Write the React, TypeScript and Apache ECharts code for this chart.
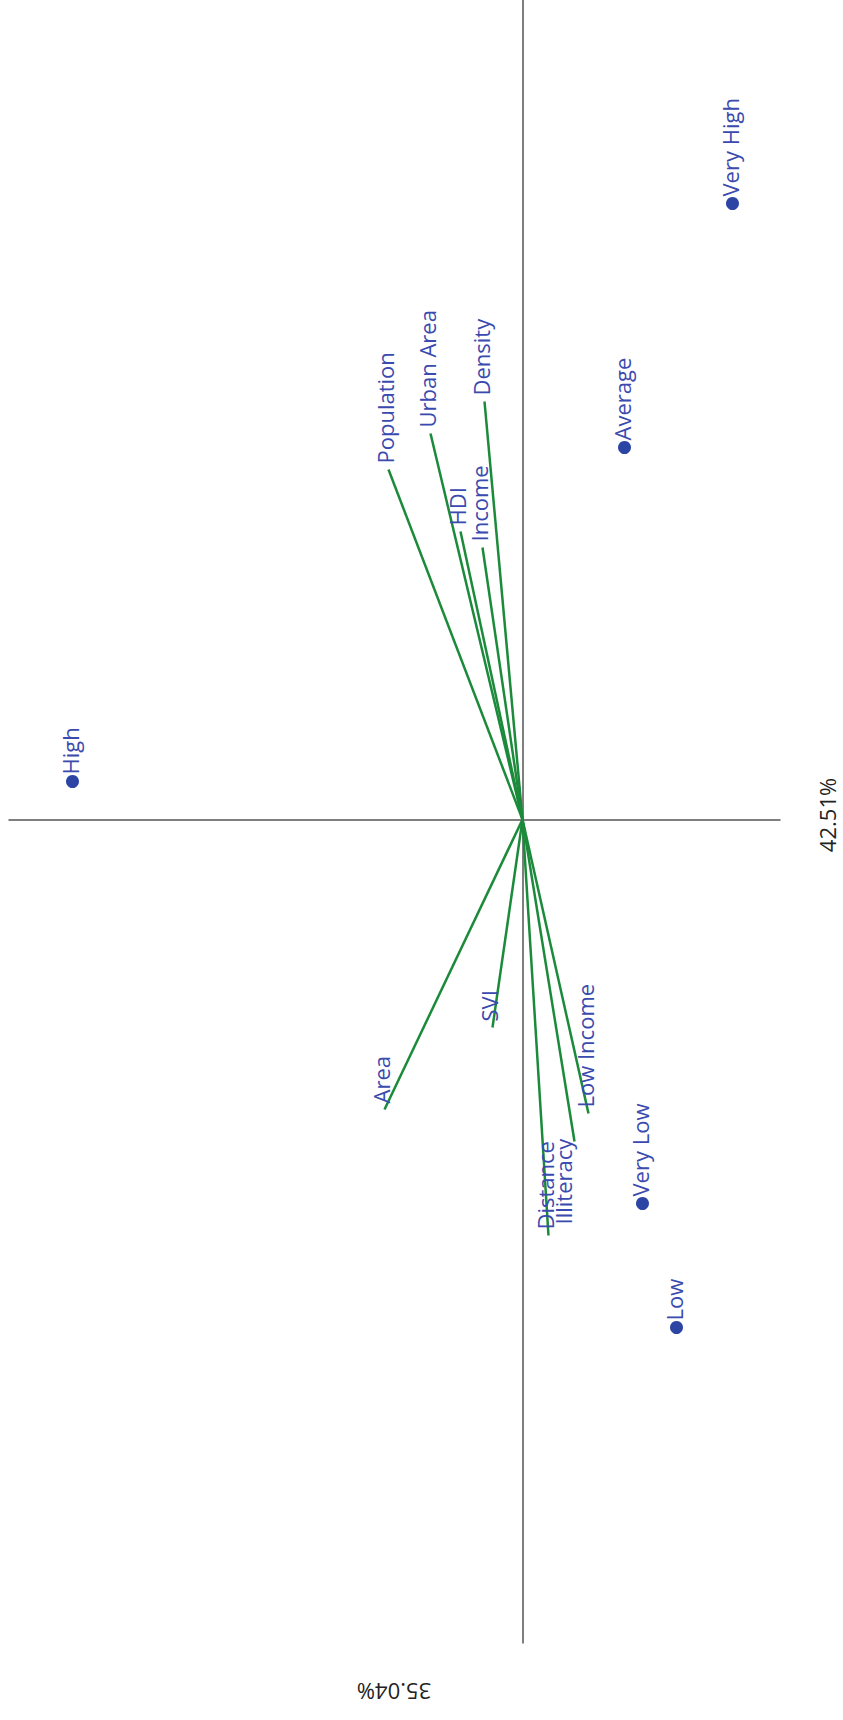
import React, { useEffect, useRef } from 'react';
import * as echarts from 'echarts';

// Group scores (PC1 = 42.51%, PC2 = 35.04%); the figure is rotated: PC1 points up, PC2 points left
const groupNames = ['Very High', 'Average', 'High', 'Very Low', 'Low'];
const groupPC1 = [3.08, 1.86, 0.19, -1.92, -2.54];
const groupPC2 = [-1.05, -0.51, 2.25, -0.6, -0.77];

// Variable loadings (vectors from the origin)
const varNames = ['Population', 'Urban Area', 'Density', 'HDI', 'Income', 'Area', 'SVI', 'Low Income', 'Illiteracy', 'Distance'];
const varPC1 = [1.75, 1.93, 2.09, 1.44, 1.36, -1.45, -1.04, -1.47, -1.61, -2.08];
const varPC2 = [0.67, 0.46, 0.19, 0.31, 0.2, 0.69, 0.15, -0.33, -0.26, -0.13];

const axisTitles = ['42.51%', '35.04%'];

// axis extents
const pc1Min = -4.1175;
const pc1Max = 4.0975;
const pc2Min = -1.2875;
const pc2Max = 2.5675;

// style
const GREEN = '#1b8a3a';
const BLUE_TEXT = '#3a4aae';
const BLUE_DOT = '#2c44a4';
const AXIS = '#555555';
const FONT = '"Open Sans", "Noto Sans", sans-serif';
const FS = 22;
const labelNudge: Record<string, [number, number]> = { Illiteracy: [-8, 89] };

export default function App() {
  const ref = useRef<HTMLDivElement>(null);
  useEffect(() => {
    document.body.style.margin = '0';
    const chart = echarts.init(ref.current!, null, { renderer: 'svg' });
    const axisCommon = {
      type: 'value' as const,
      axisLine: { show: true, onZero: true, lineStyle: { color: AXIS, width: 1.5 } },
      axisTick: { show: false },
      axisLabel: { show: false },
      splitLine: { show: false },
    };
    const textRender = (names: string[], dx: number, dy: number) => (params: any, api: any) => {
      const p = api.coord([api.value(0), api.value(1)]);
      const name = names[params.dataIndex];
      const n = labelNudge[name] || [0, 0];
      return {
        type: 'text',
        x: p[0] + dx + n[0],
        y: p[1] + dy + n[1],
        rotation: Math.PI / 2,
        style: {
          text: name,
          align: 'left',
          verticalAlign: 'middle',
          fill: BLUE_TEXT,
          fontSize: FS,
          fontFamily: FONT,
        },
      };
    };
    chart.setOption({
      animation: false,
      backgroundColor: '#ffffff',
      grid: { left: 9, right: 63, top: 0, bottom: 77, containLabel: false },
      xAxis: { ...axisCommon, inverse: true, min: pc2Min, max: pc2Max },
      yAxis: { ...axisCommon, min: pc1Min, max: pc1Max },
      series: [
        {
          type: 'lines',
          coordinateSystem: 'cartesian2d',
          silent: true,
          symbol: 'none',
          lineStyle: { color: GREEN, width: 2.5, opacity: 1 },
          data: varNames.map((n, i) => ({ name: n, coords: [[0, 0], [varPC2[i], varPC1[i]]] })),
        },
        {
          type: 'scatter',
          symbol: 'circle',
          symbolSize: 13,
          itemStyle: { color: BLUE_DOT, opacity: 1 },
          data: groupNames.map((n, i) => ({ name: n, value: [groupPC2[i], groupPC1[i]] })),
        },
        {
          type: 'custom',
          silent: true,
          renderItem: textRender(groupNames, -3, -7),
          data: groupNames.map((_, i) => [groupPC2[i], groupPC1[i]]),
        },
        {
          type: 'custom',
          silent: true,
          renderItem: textRender(varNames, -4, -6),
          data: varNames.map((_, i) => [varPC2[i], varPC1[i]]),
        },
      ],
      graphic: [
        {
          type: 'text',
          x: 827,
          y: 815,
          rotation: Math.PI / 2,
          style: { text: axisTitles[0], align: 'center', verticalAlign: 'middle', fill: '#222', fontSize: FS, fontFamily: FONT },
        },
        {
          type: 'text',
          x: 394,
          y: 1692,
          rotation: Math.PI,
          style: { text: axisTitles[1], align: 'center', verticalAlign: 'middle', fill: '#222', fontSize: FS, fontFamily: FONT },
        },
      ],
    });
    return () => chart.dispose();
  }, []);
  return <div ref={ref} style={{ position: 'absolute', left: 0, top: 0, width: 843, height: 1720 }} />;
}
